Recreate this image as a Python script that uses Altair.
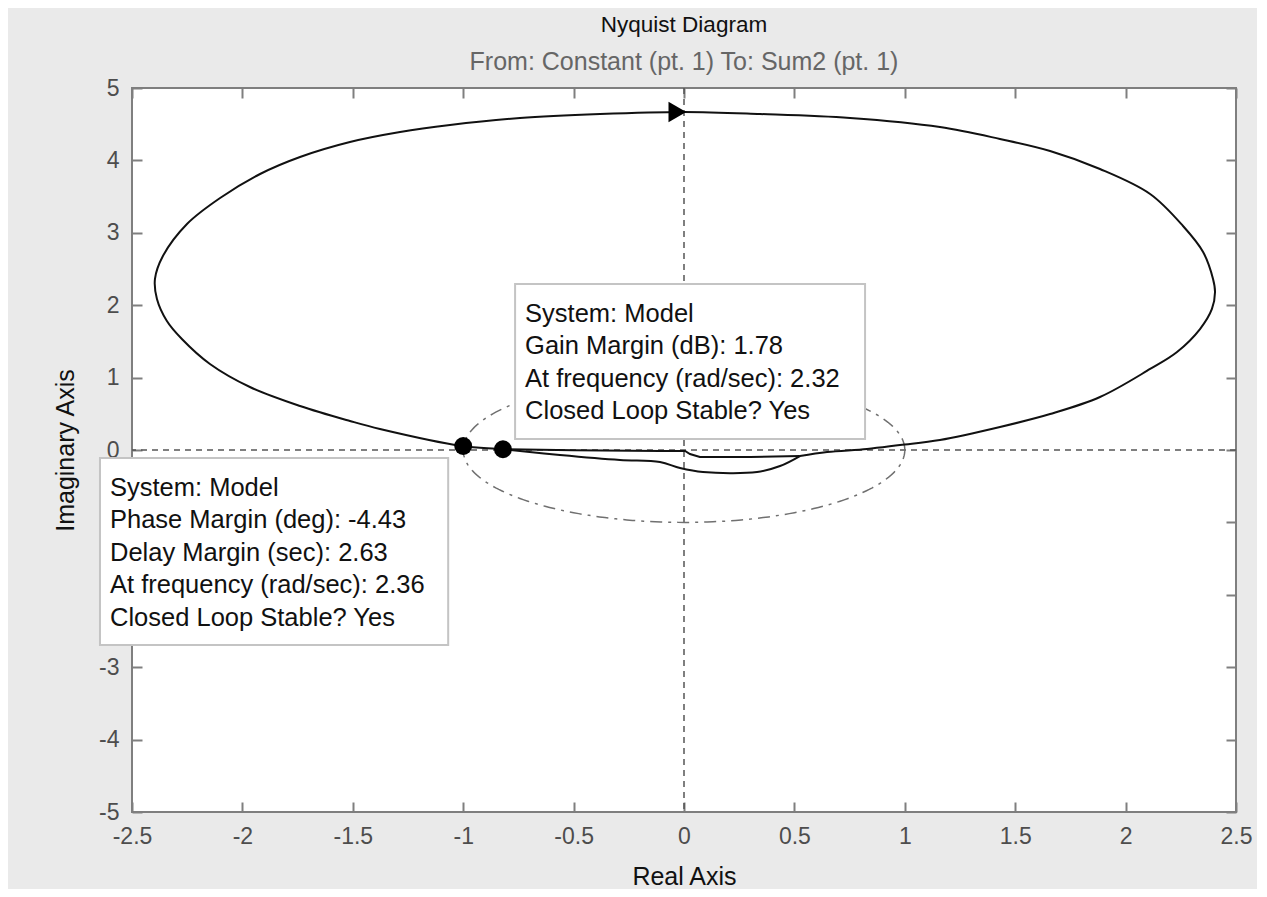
import altair as alt
import numpy as np
import pandas as pd

# ---- data -----------------------------------------------------------------
# main Nyquist loop (real / imaginary parts), traced in drawing order
loop_re = [0.525, 0.648, 0.829, 0.978, 1.159, 1.431, 1.658, 1.884, 2.111, 2.233,
           2.337, 2.391, 2.405, 2.396, 2.351, 2.260, 2.111, 1.884, 1.658, 1.431,
           1.159, 0.752, 0.344, 0.0, -0.380, -0.743, -1.060, -1.286, -1.513,
           -1.739, -1.920, -2.101, -2.251, -2.360, -2.396, -2.387, -2.342, -2.274,
           -2.147, -1.966, -1.739, -1.513, -1.377, -1.005, -0.82,
           -0.562, -0.290, -0.109, -0.018, 0.086, 0.331, 0.435, 0.525]
loop_im = [-0.083, -0.028, 0.014, 0.069, 0.138, 0.318, 0.497, 0.732, 1.119, 1.354,
           1.671, 1.948, 2.182, 2.362, 2.735, 3.094, 3.536, 3.881, 4.130, 4.296,
           4.461, 4.586, 4.641, 4.669, 4.641, 4.586, 4.489, 4.392, 4.254,
           4.047, 3.812, 3.481, 3.122, 2.680, 2.362, 2.086, 1.782, 1.533,
           1.188, 0.870, 0.608, 0.401, 0.290, 0.055, 0.01,
           -0.069, -0.138, -0.166, -0.249, -0.304, -0.304, -0.221, -0.083]
# inner branch near the real axis
inner_re = [-0.82, -0.50, -0.109, 0.005, 0.027, 0.072, 0.30, 0.525]
inner_im = [0.01, -0.005, -0.014, -0.014, -0.055, -0.097, -0.095, -0.083]
# margin markers
margin_re = [-1.0, -0.82]
margin_im = [0.055, 0.01]
# direction arrow
arrow_re = [-0.03]
arrow_im = [4.669]

x_ticks = [-2.5, -2, -1.5, -1, -0.5, 0, 0.5, 1, 1.5, 2, 2.5]
y_ticks = [-5, -4, -3, -2, -1, 0, 1, 2, 3, 4, 5]
y_hidden = [-1, -2]   # labels hidden behind the phase-margin box in the picture

gm_lines = ["System: Model", "Gain Margin (dB): 1.78",
            "At frequency (rad/sec): 2.32", "Closed Loop Stable? Yes"]
pm_lines = ["System: Model", "Phase Margin (deg): -4.43",
            "Delay Margin (sec): 2.63", "At frequency (rad/sec): 2.36",
            "Closed Loop Stable? Yes"]
box_x1 = [-0.765, -2.645]
box_x2 = [0.820, -1.068]
box_y1 = [2.293, -0.110]
box_y2 = [0.152, -2.693]

# ---- tables ----------------------------------------------------------------
loop_df = pd.DataFrame({"re": loop_re, "im": loop_im, "i": range(len(loop_re))})
inner_df = pd.DataFrame({"re": inner_re, "im": inner_im, "i": range(len(inner_re))})
marg_df = pd.DataFrame({"re": margin_re, "im": margin_im})
arrow_df = pd.DataFrame({"re": arrow_re, "im": arrow_im})
theta = np.linspace(0, 2 * np.pi, 241)
circ_df = pd.DataFrame({"re": np.cos(theta), "im": np.sin(theta), "i": range(len(theta))})
box_df = pd.DataFrame({"re": box_x1, "re2": box_x2, "im": box_y1, "im2": box_y2,
                       "txt": ["\n".join(gm_lines), "\n".join(pm_lines)]})

FONT = "Liberation Sans"
xs = alt.Scale(domain=[-2.5, 2.5], nice=False, zero=False)
ys = alt.Scale(domain=[-5, 5], nice=False, zero=False)

hide_expr = " || ".join(f"datum.value == {v}" for v in y_hidden)

xaxis = alt.Axis(values=x_ticks, title="Real Axis", offset=-10, tickSize=10,
                 domain=False, grid=False, labelPadding=13, labelFlush=False,
                 labelOverlap=False, labelExpr="'' + datum.value",
                 tickColor="#7f7f7f", tickWidth=2, labelColor="#4d4d4d",
                 labelFont=FONT, labelFontSize=23, titleFont=FONT,
                 titleFontSize=25, titleFontWeight="normal", titleColor="#111111",
                 titleX=552, titleY=74, titleBaseline="middle", titleAlign="center")
yaxis = alt.Axis(values=y_ticks, title="Imaginary Axis", offset=-10, tickSize=10,
                 domain=False, grid=False, labelPadding=13, labelFlush=False,
                 labelOverlap=False,
                 labelExpr=f"({hide_expr}) ? '' : '' + datum.value",
                 tickColor="#7f7f7f", tickWidth=2, labelColor="#4d4d4d",
                 labelFont=FONT, labelFontSize=23, titleFont=FONT,
                 titleFontSize=25, titleFontWeight="normal", titleColor="#111111",
                 titleX=-77, titleY=362, titleBaseline="middle", titleAlign="center",
                 titleAngle=270)
topaxis = alt.Axis(values=x_ticks, title=None, orient="top", offset=-10, tickSize=10,
                   domain=False, grid=False, labels=False, tickColor="#7f7f7f", tickWidth=2)
rightaxis = alt.Axis(values=y_ticks, title=None, orient="right", offset=-10, tickSize=10,
                     domain=False, grid=False, labels=False, tickColor="#7f7f7f", tickWidth=2)

X = alt.X("re:Q", scale=xs, axis=xaxis)
Y = alt.Y("im:Q", scale=ys, axis=yaxis)

vline = alt.Chart(pd.DataFrame({"re": [0]})).mark_rule(
    color="#555555", strokeWidth=1.5, strokeDash=[6, 5]).encode(x=X)
hline = alt.Chart(pd.DataFrame({"im": [0]})).mark_rule(
    color="#555555", strokeWidth=1.5, strokeDash=[6, 5]).encode(y=Y)
circle = alt.Chart(circ_df).mark_line(
    color="#707070", strokeWidth=1.5, strokeDash=[12, 6, 3, 6]).encode(
    x=X, y=Y, order="i:Q")
loop = alt.Chart(loop_df).mark_line(
    color="#111111", strokeWidth=2, interpolate="catmull-rom").encode(
    x=X, y=Y, order="i:Q")
inner = alt.Chart(inner_df).mark_line(color="#111111", strokeWidth=2).encode(
    x=X, y=Y, order="i:Q")
marks = alt.Chart(marg_df).mark_point(
    filled=True, color="#000000", size=320, opacity=1).encode(x=X, y=Y)
arrow = alt.Chart(arrow_df).mark_point(
    shape="triangle-right", filled=True, color="#000000", size=420, opacity=1).encode(x=X, y=Y)
boxes = alt.Chart(box_df).mark_rect(
    fill="white", stroke="#c4c4c4", strokeWidth=2).encode(
    x=X, x2="re2", y=Y, y2="im2")
texts = alt.Chart(box_df).mark_text(
    align="left", baseline="top", dx=10, dy=18, lineBreak="\n", lineHeight=32.5,
    font=FONT, fontSize=25.5, color="#111111").encode(x=X, y=Y, text="txt:N")

main = alt.layer(vline, hline, circle, loop, inner, marks, arrow, boxes, texts)

frame = alt.Chart(pd.DataFrame({"re": [0], "im": [0]})).mark_point(opacity=0).encode(
    x=alt.X("re:Q", scale=xs, axis=topaxis),
    y=alt.Y("im:Q", scale=ys, axis=rightaxis))

chart = alt.layer(main, frame).resolve_axis(x="independent", y="independent").properties(
    width=1104, height=724,
    autosize=alt.AutoSizeParams(type="none"),
    padding={"left": 124, "top": 80, "right": 21, "bottom": 77},
    background="#eaeaea",
    title=alt.TitleParams(
        "Nyquist Diagram",
        subtitle="From: Constant (pt. 1)  To: Sum2 (pt. 1)",
        font=FONT, fontSize=22.5, fontWeight="normal", color="#111111",
        subtitleFont=FONT, subtitleFontSize=25, subtitleColor="#666666",
        anchor="middle", offset=2, subtitlePadding=14),
).configure_view(fill="white", stroke="#7f7f7f", strokeWidth=2)

chart.save("out.html", embed_options={"renderer": "svg", "actions": False})
